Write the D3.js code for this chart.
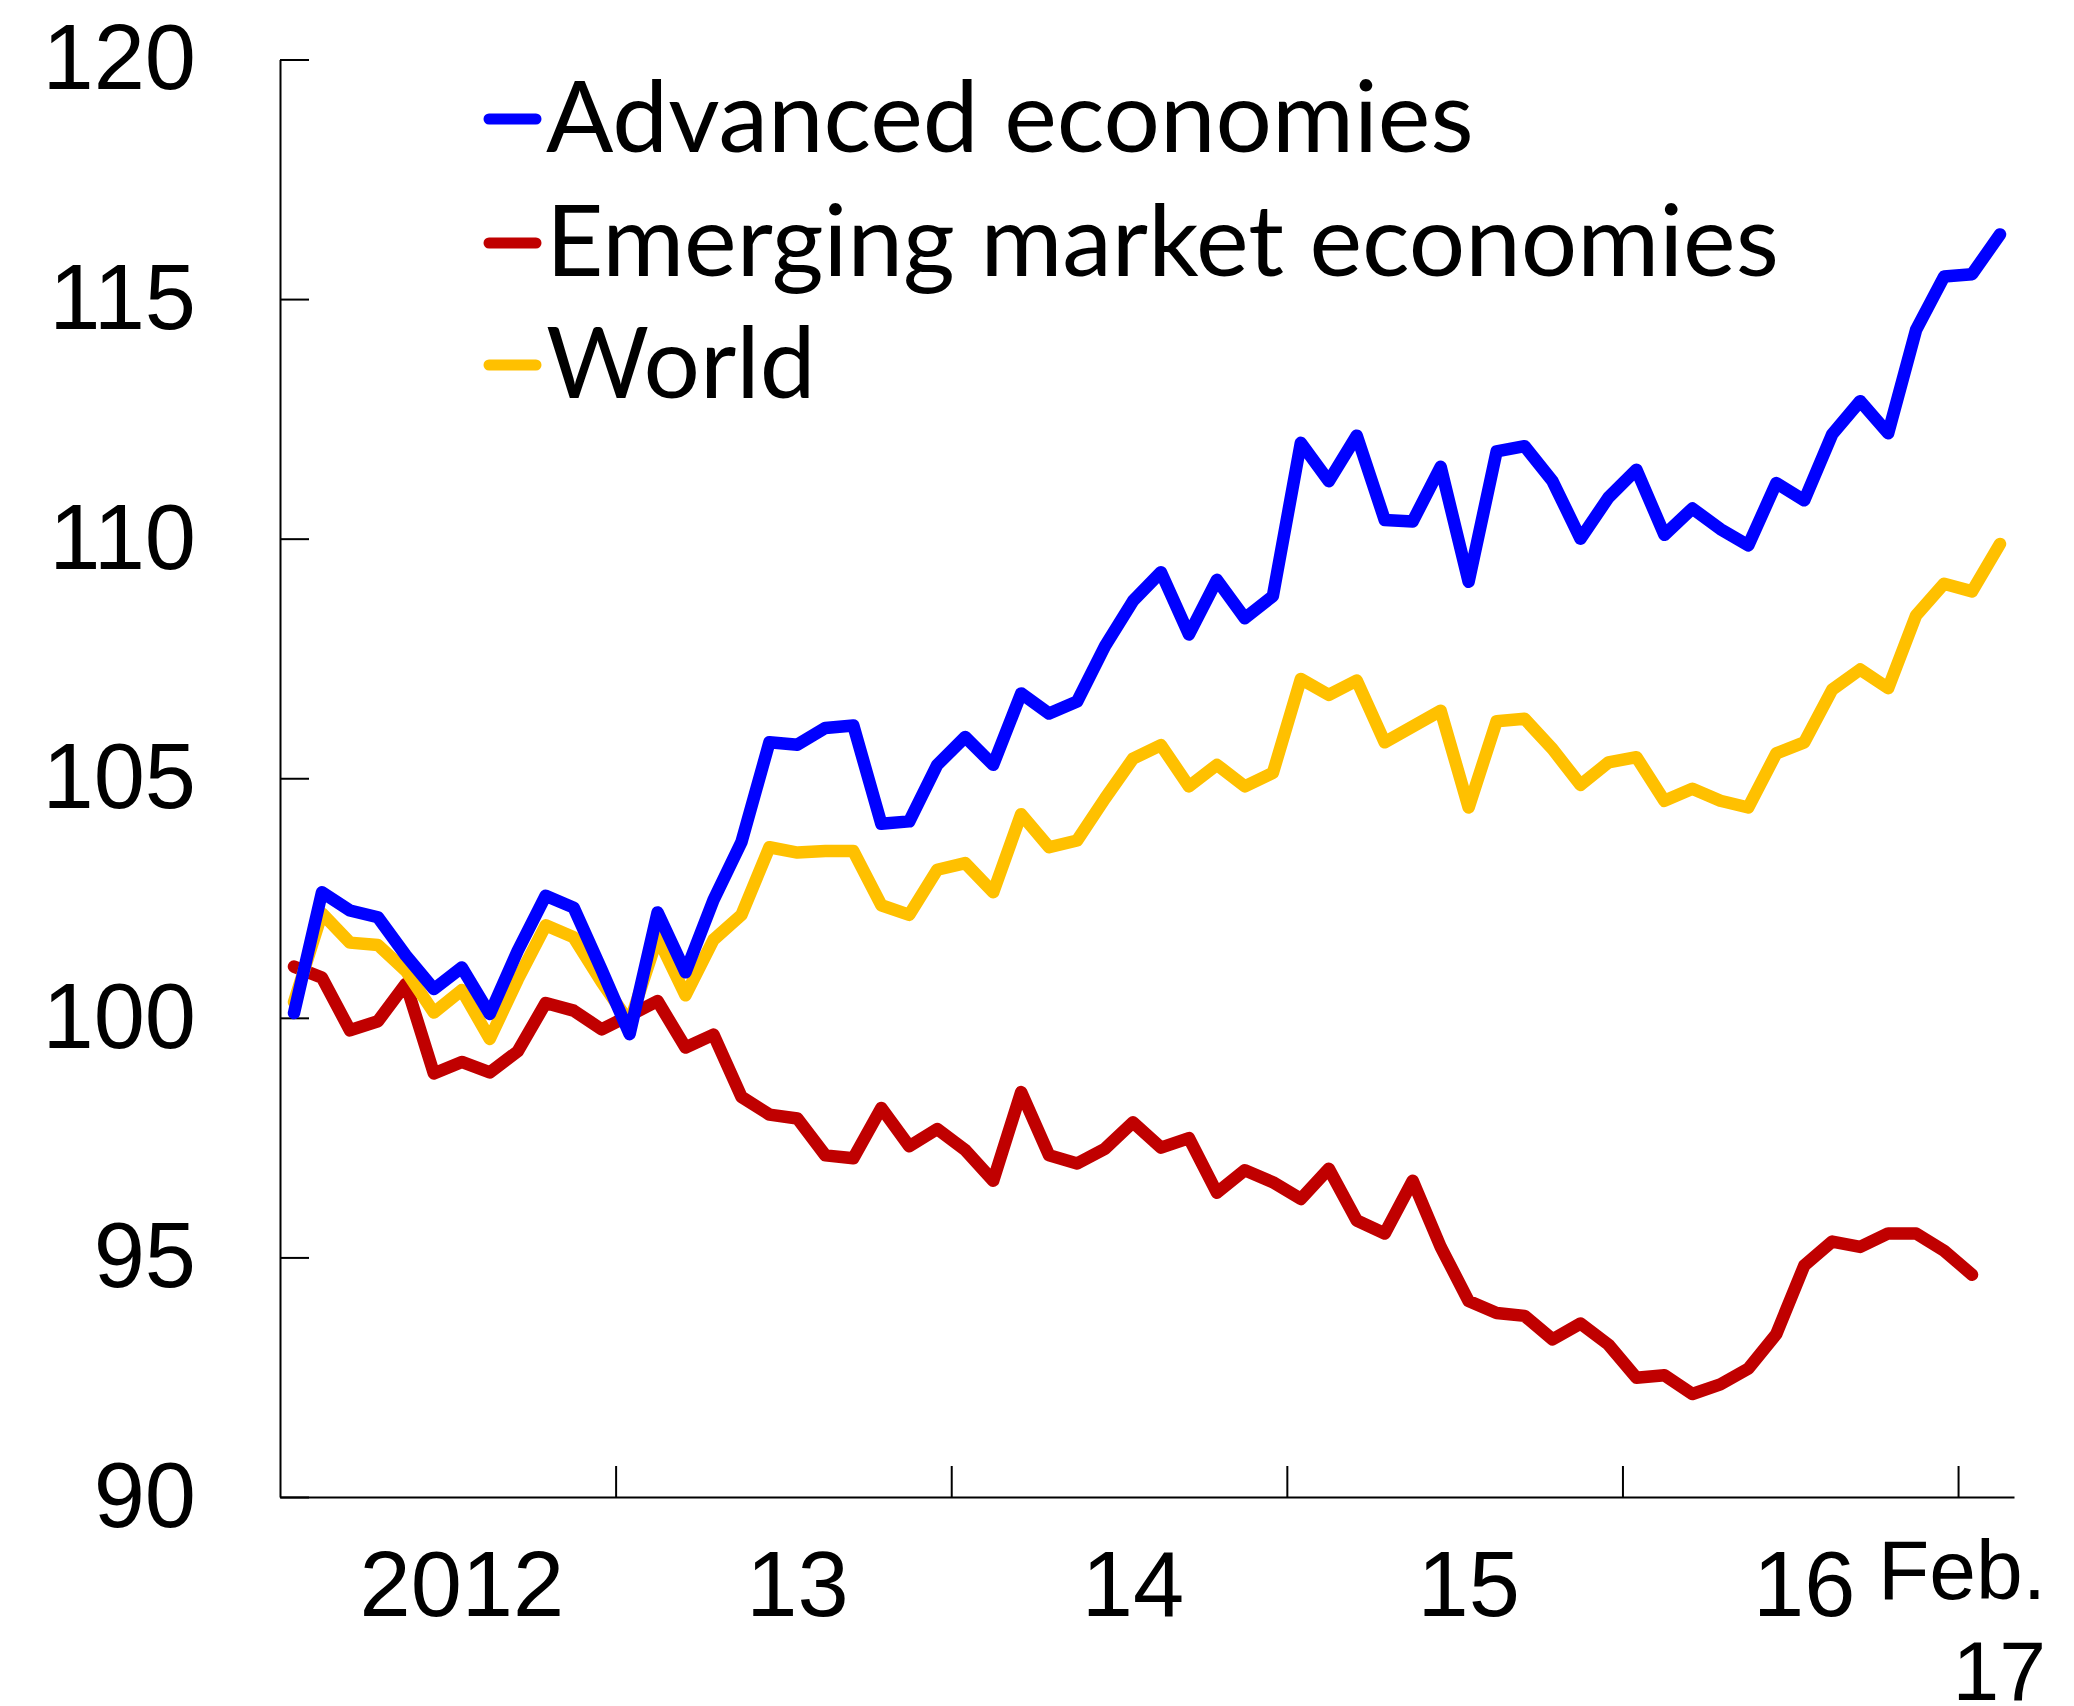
<!DOCTYPE html>
<html>
<head>
<meta charset="utf-8">
<script src="https://cdn.jsdelivr.net/npm/d3@7"></script>
<style>
  html, body { margin: 0; padding: 0; background: #fff; }
  svg { display: block; }
</style>
</head>
<body>
<svg id="chart" width="2074" height="1706"></svg>
<script>
// Monthly index, Jan 2012 = 100 basis (Jan 2012 .. Feb 2017)
const startYear = 2012;
const monthCount = 62;
const months = [];
for (let i = 0; i < monthCount; i++) {
  const yr = startYear + Math.floor(i / 12);
  const m = (i % 12) + 1;
  months.push(yr + "-" + String(m).padStart(2, "0"));
}

const advanced = [
  100.1, 102.62, 102.24, 102.1, 101.3, 100.6, 101.05, 100.08, 101.4, 102.55,
  102.3, 101.0, 99.66, 102.2, 100.95, 102.46, 103.67, 105.75, 105.7, 106.05,
  106.1, 104.05, 104.1, 105.28, 105.86, 105.28, 106.77, 106.35, 106.6, 107.76,
  108.7, 109.3, 108.0, 109.14, 108.34, 108.8, 112.0, 111.2, 112.15, 110.39,
  110.36, 111.5, 109.1, 111.82, 111.93, 111.2, 110.0, 110.86, 111.44, 110.08,
  110.63, 110.2, 109.86, 111.16, 110.8, 112.18, 112.87, 112.2, 114.36, 115.47,
  115.52, 116.35
];

const emerging = [
  101.07, 100.84, 99.74, 99.93, 100.71, 98.84, 99.08, 98.86, 99.3, 100.31,
  100.15, 99.76, 100.05, 100.35, 99.38, 99.65, 98.35, 97.98, 97.9, 97.13,
  97.07, 98.12, 97.32, 97.68, 97.24, 96.6, 98.45, 97.13, 96.96, 97.27,
  97.82, 97.29, 97.49, 96.35, 96.82, 96.57, 96.22, 96.85, 95.77, 95.5,
  96.6, 95.22, 94.09, 93.84, 93.78, 93.29, 93.62, 93.18, 92.49, 92.54,
  92.15, 92.35, 92.68, 93.4, 94.83, 95.33, 95.22, 95.5, 95.5, 95.14,
  94.64
];

const world = [
  100.33, 102.18, 101.57, 101.52, 100.98, 100.11, 100.58, 99.56, 100.8, 101.93,
  101.68, 100.75, 99.9, 101.68, 100.47, 101.63, 102.15, 103.56, 103.45, 103.48,
  103.48, 102.35, 102.15, 103.09, 103.23, 102.62, 104.25, 103.56, 103.7, 104.58,
  105.41, 105.69, 104.83, 105.28, 104.83, 105.11, 107.07, 106.74, 107.04, 105.75,
  106.08, 106.41, 104.39, 106.19, 106.24, 105.61, 104.86, 105.33, 105.44, 104.53,
  104.78, 104.53, 104.39, 105.52, 105.75, 106.85, 107.27, 106.88, 108.4, 109.06,
  108.9, 109.89
];

const yTicks = [90, 95, 100, 105, 110, 115, 120];
const yearLabels = ["2012", "13", "14", "15", "16"];
const lastLabel = ["Feb.", "17"];

const seriesNames = ["Advanced economies", "Emerging market economies", "World"];
const seriesColors = ["#0000FF", "#C00000", "#FFC000"];
const seriesValues = [advanced, emerging, world];

// ---- layout ----
const plotLeft = 280, plotRight = 2014, plotTop = 59.5, plotBottom = 1497;
const axisFont = "'Liberation Sans', Arial, sans-serif";
const legendFont = "Lato, 'Open Sans', sans-serif";

const svg = d3.select("#chart");

const x = d3.scaleLinear().domain([0, monthCount]).range([plotLeft, plotRight]);
const y = d3.scaleLinear().domain([90, 120]).range([plotBottom, plotTop]);

// y axis, ticks pointing inward
const yAxis = d3.axisLeft(y)
  .tickValues(yTicks)
  .tickSizeInner(-29)
  .tickSizeOuter(0)
  .tickPadding(84)
  .tickFormat(d3.format("d"));

const gy = svg.append("g")
  .attr("transform", `translate(${plotLeft},0)`)
  .call(yAxis);
gy.select(".domain").attr("stroke", "#000").attr("stroke-width", 2);
gy.selectAll(".tick line").attr("stroke", "#000").attr("stroke-width", 2);
gy.selectAll(".tick text")
  .attr("fill", "#000")
  .style("font-family", axisFont)
  .style("font-size", "92px");

// x axis: year boundaries, ticks pointing up
const xAxis = d3.axisBottom(x)
  .tickValues([12, 24, 36, 48, 60])
  .tickSizeInner(-31)
  .tickSizeOuter(0)
  .tickFormat("");

const gx = svg.append("g")
  .attr("transform", `translate(0,${plotBottom})`)
  .call(xAxis);
gx.select(".domain").attr("stroke", "#000").attr("stroke-width", 2);
gx.selectAll(".tick line").attr("stroke", "#000").attr("stroke-width", 2);

// year labels, centred in each year's span
svg.append("g")
  .selectAll("text")
  .data(yearLabels)
  .join("text")
  .attr("x", (d, i) => x(i * 12 + 6) + 14)
  .attr("y", 1616)
  .attr("text-anchor", "middle")
  .style("font-family", axisFont)
  .style("font-size", "92px")
  .attr("fill", "#000")
  .text(d => d);

// final month label on two lines
svg.append("g")
  .selectAll("text")
  .data(lastLabel)
  .join("text")
  .attr("x", 2046)
  .attr("y", (d, i) => 1599 + i * 101)
  .attr("text-anchor", "end")
  .style("font-family", axisFont)
  .style("font-size", "84px")
  .attr("fill", "#000")
  .text(d => d);

// series lines
const line = d3.line()
  .x((d, i) => x(i + 0.5))
  .y(d => y(d));

const order = [1, 2, 0]; // emerging, world, then advanced on top
svg.append("g")
  .selectAll("path")
  .data(order)
  .join("path")
  .attr("d", k => line(seriesValues[k]))
  .attr("fill", "none")
  .attr("stroke", k => seriesColors[k])
  .attr("stroke-width", 12.5)
  .attr("stroke-linejoin", "round")
  .attr("stroke-linecap", "round");

// legend
const legend = svg.append("g");
const rowY = [119, 243, 365];
legend.selectAll("line")
  .data(seriesNames)
  .join("line")
  .attr("x1", 489).attr("x2", 536)
  .attr("y1", (d, i) => rowY[i]).attr("y2", (d, i) => rowY[i])
  .attr("stroke", (d, i) => seriesColors[i])
  .attr("stroke-width", 11)
  .attr("stroke-linecap", "round");

const legendText = legend.selectAll("text")
  .data(seriesNames)
  .join("text")
  .attr("x", 546)
  .attr("y", (d, i) => rowY[i] + 33)
  .attr("fill", "#000")
  .style("font-family", legendFont)
  .style("font-size", "100px")
  .text(d => d);

// size the legend text so the longest entry spans its intended width
const longest = legendText.filter((d, i) => i === 1).node();
const w = longest.getComputedTextLength();
const legendSize = 100 * 1233 / w;
legendText.style("font-size", legendSize + "px");
</script>
</body>
</html>
